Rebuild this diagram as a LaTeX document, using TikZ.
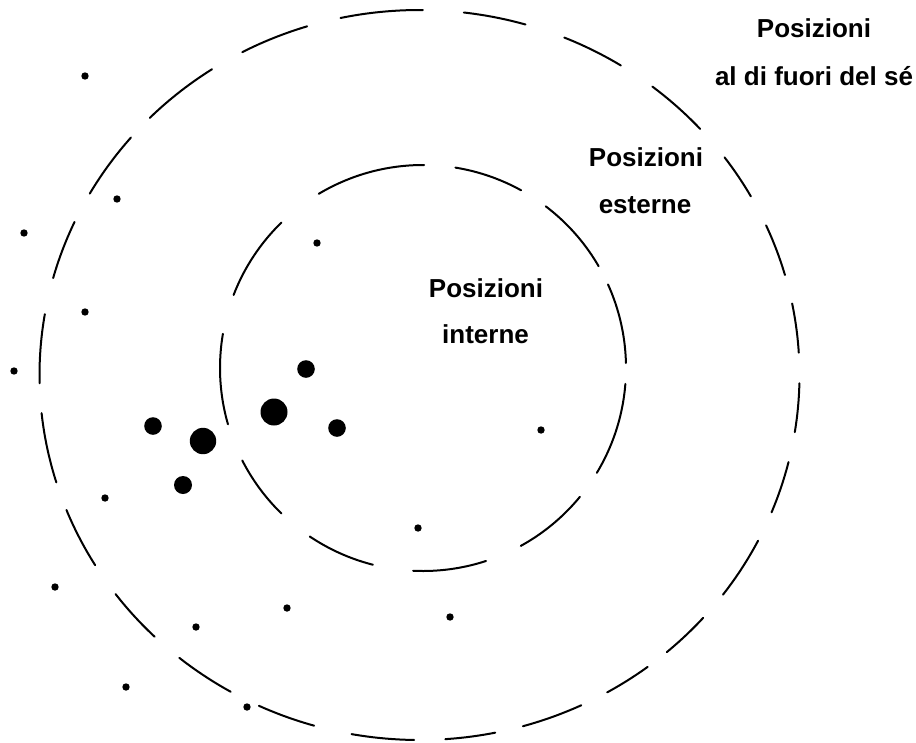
\documentclass[tikz,border=0pt]{standalone}
\usepackage{fontspec}
\setmainfont{Liberation Sans}
\begin{document}
\begin{tikzpicture}[x=1pt,y=-1pt,
  dashline/.style={line width=2pt,line cap=round},
  lbl/.style={font=\fontsize{26}{30}\selectfont\bfseries,inner sep=0pt,anchor=base},
  smalldot/.style={fill=black},
  bigdot/.style={fill=black}]
\useasboundingbox (0,0) rectangle (916,742);
% outer ring of dashes
\foreach \a/\b in {-102/-89.5,-83.3/-73.8,-67.6/-58,-52.2/-42.4,-36.6/-29.3,-24.2/-15.9,-11.3/-3.5,1.3/9,13.8/22.1,27/37,41.7/49.4,53.1/60.4,64.8/74.2,78.5/86.1,90.8/100.3,106.1/115,119.8/129.2,134.2/143.1,148.6/158.3,162.9/174,178.7/189.6,195.4/204.8,209.8/220.6,224.8/236.9,242.2/252.8}
  \draw[dashline] plot[domain=\a:\b,samples=30,smooth] ({419.5+380*cos(\x)},{375+365*sin(\x)});
% inner ring of dashes
\foreach \a/\b in {239.1/270.3,279.2/298.9,307.2/329.9,335.7/358.6,364.5/391.1,399.4/421.2,431.9/452.8,104.3/123.9,134.2/152.9,163.9/189.7,201.1/225.8}
  \draw[dashline] plot[domain=\a:\b,samples=30,smooth] ({423+203*cos(\x)},{368+203*sin(\x)});
% small dots
\foreach \px/\py in {85/76,117/199,24/233,85/312,14/371,317/243,105/498,55/587,196/627,287/608,126/687,247/707,418/528,450/617,541/430}
  \fill[smalldot] (\px,\py) circle[radius=3.7pt];
% big dots
\fill[bigdot] (306,369) circle[radius=8.8pt];
\fill[bigdot] (153,426) circle[radius=8.8pt];
\fill[bigdot] (203,441) circle[radius=13.2pt];
\fill[bigdot] (183,485) circle[radius=9pt];
\fill[bigdot] (274,412) circle[radius=13.5pt];
\fill[bigdot] (337,428) circle[radius=8.8pt];
% labels
\node[lbl] (t1a) at (814,37) {Posizioni};
\node[lbl] (t1b) at (814,85) {al di fuori del sé};
\node[lbl] (t2a) at (646,166) {Posizioni};
\node[lbl] (t2b) at (645,213) {esterne};
\node[lbl] (t3a) at (486,297) {Posizioni};
\node[lbl] (t3b) at (485.5,343) {interne};
\end{tikzpicture}
\end{document}
